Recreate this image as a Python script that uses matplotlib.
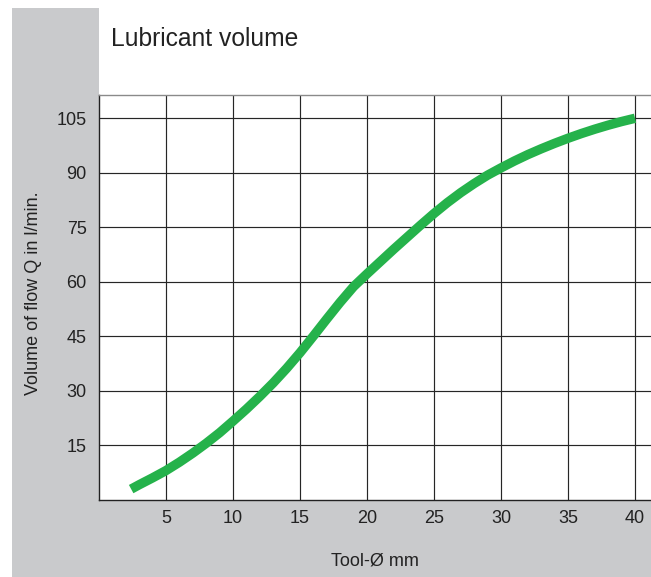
import matplotlib.pyplot as plt
from matplotlib.patches import Rectangle

plt.rcParams['font.family'] = ['Liberation Sans', 'DejaVu Sans']

# curve (tool diameter in mm, flow in l/min)
tool_d = [2.4, 3, 4, 5, 6, 7, 8, 9, 10, 11, 12, 13, 14, 15, 16, 17, 18, 19, 20,
          21, 22, 23, 24, 25, 26, 27, 28, 29, 30, 31, 32, 33, 34, 35,
          36, 37, 38, 39, 40]
flow_q = [3.0, 4.2, 6.1, 8.1, 10.4, 12.9, 15.6, 18.5, 21.7, 25.0, 28.5, 32.2, 36.2, 40.5,
          45.1, 49.8, 54.4, 58.7, 62.2, 65.6, 69.0, 72.3, 75.6, 78.8, 81.8, 84.55, 87.05,
          89.35, 91.35, 93.25, 95.0, 96.6, 98.1, 99.5, 100.8, 102.0, 103.1, 104.1, 105.0]

x_ticks = [5, 10, 15, 20, 25, 30, 35, 40]
y_ticks = [15, 30, 45, 60, 75, 90, 105]

W, H = 651, 577
fig = plt.figure(figsize=(W / 100, H / 100), dpi=100)
fig.patch.set_facecolor('white')

# grey panel + white block above the plot
fig.patches.append(Rectangle((12 / W, 0), 1, (H - 8) / H, transform=fig.transFigure,
                             facecolor='#c9cacc', edgecolor='none', zorder=-10))
fig.patches.append(Rectangle((99 / W, 77 / H), 1, 1, transform=fig.transFigure,
                             facecolor='white', edgecolor='none', zorder=-9))

ax = fig.add_axes([99 / W, 77 / H, (W - 99) / W, 405 / H])
ax.set_facecolor('white')
ax.set_xlim(0, (W - 99) / 13.4)
ax.set_ylim(0, 111.4)

ax.set_xticks(x_ticks)
ax.set_yticks(y_ticks)
ax.tick_params(length=0, labelsize=13, colors='#222222')
ax.tick_params(axis='x', pad=7)
ax.tick_params(axis='y', pad=9)
ax.grid(True, color='#262626', linewidth=0.85)

ax.spines['right'].set_visible(False)
ax.spines['top'].set_color('#8a8a8a')
ax.spines['left'].set_color('#222222')
ax.spines['bottom'].set_color('#222222')
for s in ['top', 'left', 'bottom']:
    ax.spines[s].set_linewidth(1.0)

ax.plot(tool_d, flow_q, color='#25b24b', linewidth=6.8,
        solid_capstyle='butt', solid_joinstyle='round', clip_on=False, zorder=3)

ax.set_xlabel('Tool-Ø mm', fontsize=13, color='#222222', va='baseline')
ax.xaxis.set_label_coords(0.5, -0.162)
ax.set_ylabel('Volume of flow Q in l/min.', fontsize=13, color='#222222', va='center')
ax.yaxis.set_label_coords(-0.118, 0.51)

fig.text(111 / W, 1 - 46 / H, 'Lubricant volume', fontsize=17.7, color='#222222',
         va='baseline', ha='left')

fig.savefig('out.png', dpi=100)
